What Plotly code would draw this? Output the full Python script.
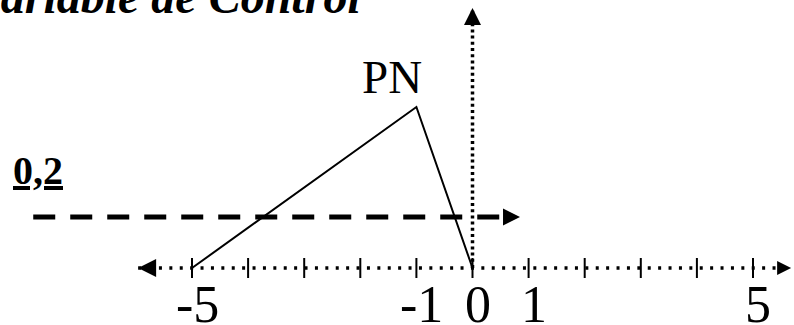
import plotly.graph_objects as go

# ---- data ----
pn_x = [-5, -1, 0]          # triangular set PN
pn_y = [0, 1, 0]
pn_label = "PN"

tick_values = [-5, -4, -3, -2, -1, 0, 1, 2, 3, 4, 5]
label_values = [-5, -1, 0, 1, 5]
label_text = ["-5", "-1", "0", "1", "5"]

axis_x_left = -5.96          # horizontal axis arrow tips
axis_x_right = 5.68
axis_y_top = 1.615           # vertical axis arrow tip

alpha_level = 0.317          # dashed cut line (drawn position)
alpha_start = -7.83
alpha_end = 0.847
alpha_label = "0,2"

title_text = "Variable de Control"

# ---- scales (pixel geometry of the reference) ----
W, H = 794, 325
x_zero_px, x_unit_px = 472.5, 56.1
y_zero_px, y_unit_px = 268.0, 161.0
xmin = -x_zero_px / x_unit_px
xmax = xmin + W / x_unit_px
ymax = y_zero_px / y_unit_px
ymin = -(H - y_zero_px) / y_unit_px

serif = "Liberation Serif, Times New Roman, serif"
black = "#000000"

fig = go.Figure()

# horizontal dotted axis
fig.add_trace(go.Scatter(
    x=[axis_x_left, axis_x_right], y=[0, 0], mode="lines",
    line=dict(color=black, width=3.5, dash="3px,7.4px"), hoverinfo="skip"))
# vertical dotted axis
fig.add_trace(go.Scatter(
    x=[0, 0], y=[0, axis_y_top], mode="lines",
    line=dict(color=black, width=3.5, dash="3px,3.2px"), hoverinfo="skip"))

# tick marks
tick_half = 10 / y_unit_px
tx, ty = [], []
for v in tick_values:
    tx += [v, v, None]
    ty += [-tick_half, tick_half, None]
fig.add_trace(go.Scatter(x=tx, y=ty, mode="lines",
                         line=dict(color=black, width=2), hoverinfo="skip"))

# dashed alpha-cut line
fig.add_trace(go.Scatter(
    x=[alpha_start, alpha_end - 0.3], y=[alpha_level, alpha_level], mode="lines",
    line=dict(color=black, width=5, dash="22px,15px"), hoverinfo="skip"))

# PN triangle
fig.add_trace(go.Scatter(x=pn_x, y=pn_y, mode="lines",
                         line=dict(color=black, width=2), hoverinfo="skip"))

# arrowheads
def head(x, y, sym, size):
    fig.add_trace(go.Scatter(
        x=[x], y=[y], mode="markers",
        marker=dict(symbol=sym, size=size, color=black, line=dict(width=0)),
        hoverinfo="skip"))

head(axis_x_left, 0, "arrow-left", 18)
head(axis_x_right, 0, "arrow-right", 14)
head(0, axis_y_top, "arrow-up", 17)
head(alpha_end, alpha_level, "arrow-right", 17)

annotations = []
# tick labels
for v, t in zip(label_values, label_text):
    annotations.append(dict(
        x=v, y=0, xref="x", yref="y", text=t, showarrow=False,
        xanchor="center", yanchor="middle", xshift=5, yshift=-36.5,
        font=dict(family=serif, size=52, color=black)))

# PN label
annotations.append(dict(
    x=pn_x[1], y=pn_y[1], xref="x", yref="y", text=pn_label, showarrow=False,
    xanchor="center", yanchor="middle", xshift=-24, yshift=30.5,
    font=dict(family=serif, size=47, color=black)))

# alpha label
annotations.append(dict(
    x=38 / W, y=1 - 170 / H, xref="paper", yref="paper",
    text="<u>" + alpha_label + "</u>", showarrow=False,
    xanchor="center", yanchor="middle",
    font=dict(family=serif, size=40, color=black, weight="bold")))

# title (cut at the top/left as in the original)
annotations.append(dict(
    x=-28 / W, y=1 + 3.2 / H, xref="paper", yref="paper",
    text=title_text, showarrow=False, xanchor="left", yanchor="middle",
    font=dict(family=serif, size=48, color=black, weight="bold", style="italic")))

fig.update_layout(
    width=W, height=H,
    margin=dict(l=0, r=0, t=0, b=0),
    paper_bgcolor="white", plot_bgcolor="white",
    showlegend=False,
    xaxis=dict(range=[xmin, xmax], visible=False, fixedrange=True),
    yaxis=dict(range=[ymin, ymax], visible=False, fixedrange=True),
    annotations=annotations,
)

fig.write_html(
    "out.html",
    config={"displayModeBar": False},
    post_script="document.body.style.margin='0';",
)
